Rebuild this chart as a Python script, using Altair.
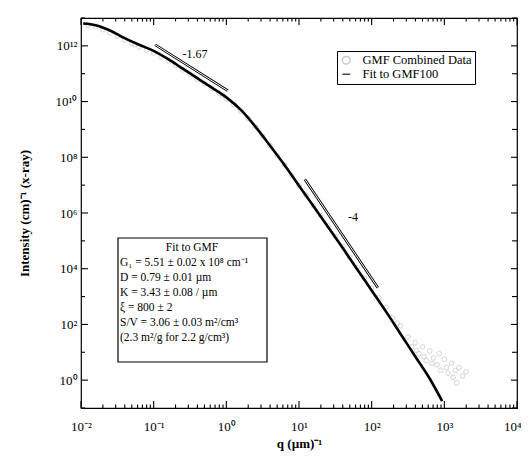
import altair as alt
import pandas as pd

# ---- data (log10 values) ----
fit_log_q = [-1.97, -1.8, -1.6, -1.4, -1.2, -1.0, -0.8, -0.6, -0.4, -0.2, 0.0, 0.2, 0.4,
             0.6, 0.8, 1.0, 1.2, 1.4, 1.6, 1.8, 2.0, 2.2, 2.4, 2.6, 2.8, 2.97]
fit_log_I = [12.80, 12.74, 12.55, 12.28, 12.04, 11.82, 11.52, 11.18, 10.84, 10.50, 10.15, 9.70, 9.10,
             8.42, 7.72, 6.98, 6.24, 5.50, 4.75, 3.98, 3.22, 2.45, 1.65, 0.85, 0.05, -0.75]

data_log_q = [-1.9, -1.8, -1.7, -1.6, -1.5, -1.4, -1.3, -1.26, -1.2, -1.1, -1.0, -0.9, -0.8, -0.7,
              -0.6, -0.5, -0.4, -0.3, -0.2, -0.1, -0.05, 0.0, 0.1, 0.2, 0.3, 0.4, 0.5, 0.6, 0.7, 0.8,
              0.9, 1.0, 1.1, 1.2, 1.3, 1.4, 1.5, 1.6, 1.7, 1.8, 1.9, 2.0, 2.1, 2.2, 2.29, 2.35, 2.4,
              2.5, 2.55, 2.6, 2.62, 2.65, 2.7, 2.72, 2.75, 2.8, 2.83, 2.85, 2.9, 2.93, 2.95, 3.0,
              3.03, 3.05, 3.1, 3.12, 3.15, 3.17, 3.2, 3.25, 3.3]
data_log_I = [12.74, 12.69, 12.58, 12.47, 12.35, 12.21, 12.08, 12.04, 11.96, 11.84, 11.74, 11.60,
              11.46, 11.30, 11.14, 10.98, 10.80, 10.64, 10.48, 10.30, 10.22, 10.10, 9.90, 9.66,
              9.40, 9.10, 8.76, 8.42, 8.06, 7.72, 7.34, 6.98, 6.62, 6.26, 5.90, 5.54, 5.16, 4.80,
              4.42, 4.04, 3.66, 3.30, 2.95, 2.62, 2.25, 2.05, 1.95, 1.55, 1.20, 1.35, 1.07, 0.95,
              1.20, 0.85, 0.70, 1.05, 0.60, 0.80, 0.55, 0.95, 0.35, 0.75, 0.46, 0.25, 0.60, 0.10,
              0.35, -0.10, 0.45, 0.15, 0.30]

slope_a_log_q = [-0.98, 0.02]
slope_a_log_I = [12.04, 10.39]
slope_b_log_q = [1.08, 2.085]
slope_b_log_I = [7.21, 3.32]
slope_labels = ["-1.67", "-4"]

x_major_exp = [-2, -1, 0, 1, 2, 3, 4]
x_tick_labels = ["10⁻²", "10⁻¹", "10⁰", "10¹", "10²", "10³", "10⁴"]
y_major_exp = [0, 2, 4, 6, 8, 10, 12]
y_tick_labels = ["10⁰", "10²", "10⁴", "10⁶", "10⁸", "10¹⁰", "10¹²"]
y_minor_exp = [-1, 1, 3, 5, 7, 9, 11, 13]

series_names = ["GMF Combined Data", "Fit to GMF100"]
box_title = "Fit to GMF"
box_lines = [
    "G₁ = 5.51 ± 0.02 x 10⁸ cm⁻¹",
    "D = 0.79 ± 0.01 µm",
    "K = 3.43 ± 0.08 / µm",
    "ξ = 800 ± 2",
    "",
    "S/V = 3.06 ± 0.03 m²/cm³",
    "(2.3 m²/g for 2.2 g/cm³)",
]
x_title = "q (µm)⁻¹"
y_title = "Intensity (cm)⁻¹ (x-ray)"

# ---- tables ----
fit_df = pd.DataFrame({"q": [10 ** v for v in fit_log_q], "I": [10 ** v for v in fit_log_I],
                       "series": series_names[1]})
pts_df = pd.DataFrame({"q": [10 ** v for v in data_log_q], "I": [10 ** v for v in data_log_I],
                       "series": series_names[0]})
ref_df = pd.DataFrame({
    "q": [10 ** v for v in slope_a_log_q + slope_b_log_q],
    "I": [10 ** v for v in slope_a_log_I + slope_b_log_I],
    "grp": ["a", "a", "b", "b"],
})
one = pd.DataFrame({"k": [0]})

FONT = "Liberation Serif"
W, H = 436, 390

x_major_vals = [10.0 ** e for e in x_major_exp]
x_minor_vals = [m * 10.0 ** e for e in x_major_exp[:-1] for m in range(2, 10)]
y_major_vals = [10.0 ** e for e in y_major_exp]
y_minor_vals = [10.0 ** e for e in y_minor_exp]

LOG = "round(log(datum.value)/LN10)"
x_label_expr = f"{x_tick_labels!r}[{LOG} - ({x_major_exp[0]})]"
y_label_expr = f"{y_tick_labels!r}[({LOG} - ({y_major_exp[0]})) / 2]"

x_scale = alt.Scale(type="log", domain=[0.01, 10000], nice=False)
y_scale = alt.Scale(type="log", domain=[0.1, 1e13], nice=False)
color_scale = alt.Scale(domain=series_names, range=["#b5b5b5", "black"])
shape_scale = alt.Scale(domain=series_names, range=["circle", "stroke"])

last_x = "datum.value >= 9999"

x_axis_main = alt.Axis(
    values=x_major_vals, ticks=False, tickSize=0, domain=False, grid=False,
    labelExpr=x_label_expr, labelFont=FONT, labelFontSize=13, labelColor="black",
    labelPadding=12, labelFlush=False, labelOverlap=False,
    labelAlign={"condition": {"test": last_x, "value": "right"}, "value": "center"},
    labelOffset={"condition": {"test": last_x, "value": 4}, "value": 0},
    title=x_title, titleFont=FONT, titleFontSize=13, titleFontWeight="bold",
    titleColor="black", titlePadding=4)
y_axis_main = alt.Axis(
    values=y_major_vals, ticks=False, tickSize=0, domain=False, grid=False,
    labelExpr=y_label_expr, labelFont=FONT, labelFontSize=13, labelColor="black",
    labelPadding=4, labelFlush=False, labelOverlap=False,
    title=y_title, titleFont=FONT, titleFontSize=13, titleFontWeight="bold",
    titleColor="black", titlePadding=24)

legend = alt.Legend(orient="none", legendX=256, legendY=33, title=None, strokeColor="black",
                    fillColor="white", padding=3, labelFont=FONT, labelFontSize=12.5,
                    labelColor="black", symbolSize=60, symbolStrokeWidth=1.5, rowPadding=0,
                    labelLimit=300, labelOffset=10)

pts = alt.Chart(pts_df).mark_point(filled=False, size=22, strokeWidth=0.8).encode(
    x=alt.X("q:Q", scale=x_scale, axis=x_axis_main),
    y=alt.Y("I:Q", scale=y_scale, axis=y_axis_main),
    color=alt.Color("series:N", scale=color_scale, legend=legend),
    shape=alt.Shape("series:N", scale=shape_scale, legend=legend),
)

fit = alt.Chart(fit_df).mark_line(strokeWidth=2.6, interpolate="monotone").encode(
    x=alt.X("q:Q", scale=x_scale, axis=None),
    y=alt.Y("I:Q", scale=y_scale, axis=None),
    color=alt.Color("series:N", scale=color_scale, legend=legend),
)

ref_outer = alt.Chart(ref_df).mark_line(strokeWidth=2.6, color="black").encode(
    x=alt.X("q:Q", scale=x_scale, axis=None),
    y=alt.Y("I:Q", scale=y_scale, axis=None),
    detail="grp:N",
)
ref_inner = alt.Chart(ref_df).mark_line(strokeWidth=1.0, color="white").encode(
    x=alt.X("q:Q", scale=x_scale, axis=None),
    y=alt.Y("I:Q", scale=y_scale, axis=None),
    detail="grp:N",
)


# inward tick marks on all four sides, placed through the scales
def x_ticks(vals, length, top):
    return alt.Chart(pd.DataFrame({"q": vals})).mark_tick(
        orient="vertical", size=length, thickness=1.1, color="black", opacity=1).encode(
        x=alt.X("q:Q", scale=x_scale, axis=None),
        y=alt.value(length / 2 if top else H - length / 2))


def y_ticks(vals, length, right):
    return alt.Chart(pd.DataFrame({"I": vals})).mark_tick(
        orient="horizontal", size=length, thickness=1.1, color="black", opacity=1).encode(
        y=alt.Y("I:Q", scale=y_scale, axis=None),
        x=alt.value(W - length / 2 if right else length / 2))


ticks = [
    x_ticks(x_major_vals, 7, False), x_ticks(x_minor_vals, 3.5, False),
    x_ticks(x_major_vals, 7, True), x_ticks(x_minor_vals, 3.5, True),
    y_ticks(y_major_vals, 7, False), y_ticks(y_minor_vals, 4, False),
    y_ticks(y_major_vals, 6, True), y_ticks(y_minor_vals, 5, True),
]

lbl_a = alt.Chart(one).mark_text(font=FONT, fontSize=12, color="black").encode(
    x=alt.value(114), y=alt.value(36), text=alt.value(slope_labels[0]))
lbl_b = alt.Chart(one).mark_text(font=FONT, fontSize=12, color="black").encode(
    x=alt.value(272), y=alt.value(199), text=alt.value(slope_labels[1]))

box = alt.Chart(one).mark_rect(fill="white", stroke="black", strokeWidth=1.2).encode(
    x=alt.value(37), x2=alt.value(186), y=alt.value(220), y2=alt.value(344))
box_t = alt.Chart(one).mark_text(font=FONT, fontSize=11.5, color="black").encode(
    x=alt.value(111), y=alt.value(230), text=alt.value(box_title))
box_b = alt.Chart(one).mark_text(font=FONT, fontSize=11.5, color="black", align="left",
                                 baseline="middle", lineBreak="\n", lineHeight=15).encode(
    x=alt.value(39), y=alt.value(245), text=alt.value("\n".join(box_lines)))

chart = alt.layer(pts, fit, ref_outer, ref_inner, *ticks, lbl_a, lbl_b, box, box_t, box_b).resolve_axis(
    x="independent", y="independent"
).properties(
    width=W, height=H,
    padding={"left": 73, "top": 10, "right": 4, "bottom": 44},
    autosize="none",
    background="white",
).configure_view(stroke="black", strokeWidth=1.2)

chart.save("out.html", embed_options={"renderer": "svg", "actions": False})
